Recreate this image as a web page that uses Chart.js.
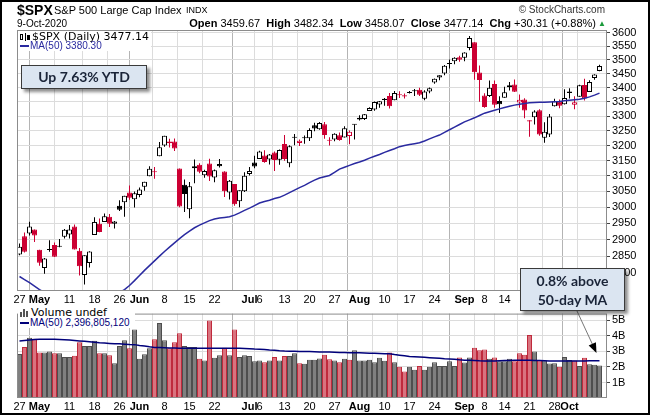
<!DOCTYPE html>
<html>
<head>
<meta charset="utf-8">
<script src="https://cdn.jsdelivr.net/npm/chart.js@4.4.1/dist/chart.umd.min.js"></script>
<style>
  body { margin:0; background:#fff; }
  #page { position:relative; width:650px; height:415px; overflow:hidden; font-family:"Liberation Sans", Arial, sans-serif; }
  #frame { position:absolute; left:0; top:0; width:650px; height:415px; box-sizing:border-box; border:2px solid #000; pointer-events:none; }
  canvas { position:absolute; left:0; }
  #priceCanvas { top:0; }
  #volCanvas { top:305px; }
  .t { position:absolute; white-space:nowrap; color:#000; }
  .legend { position:absolute; background:#fff; }
  .note { position:absolute; background:#dbe5f1; border:1px solid #3a3a3a; box-shadow:3px 3px 3px rgba(0,0,0,0.45);
          font-family:Lato, "Open Sans", sans-serif; font-weight:bold; font-size:14px; color:#1a2438; text-align:center; box-sizing:border-box; }
</style>
</head>
<body>
<div id="page">
  <canvas id="priceCanvas" width="650" height="305"></canvas>
  <canvas id="volCanvas" width="650" height="110"></canvas>

  <div class="t" style="left:17px; top:3px; font-size:14px; line-height:14px; font-weight:bold;">$SPX</div>
  <div class="t" style="left:54px; top:5px; font-size:11px; line-height:11px;">S&amp;P 500 Large Cap Index</div>
  <div class="t" style="left:186px; top:6px; font-size:9px; line-height:9px;">INDX</div>
  <div class="t" style="right:45px; top:5px; font-size:10px; line-height:10px; color:#333;">&copy; StockCharts.com</div>
  <div class="t" style="left:17px; top:19px; font-size:10px; line-height:10px;">9-Oct-2020</div>
  <div class="t" style="right:54px; top:18px; font-size:11px; line-height:11px;">
    <b>Open</b> 3459.67&nbsp;&nbsp;<b>High</b> 3482.34&nbsp;&nbsp;<b>Low</b> 3458.07&nbsp;&nbsp;<b>Close</b> 3477.14&nbsp;&nbsp;<b>Chg</b> +30.31 (+0.88%)
  </div>
  <div class="t" style="left:598px; top:20px; font-size:8px; line-height:8px; color:#1a9a3a;">&#9650;</div>

  <div class="legend" style="left:18px; top:31px; width:133px; height:20px;">
    <svg style="position:absolute; left:2px; top:2px;" width="10" height="8">
      <rect x="0.5" y="1.5" width="2" height="5" fill="none" stroke="#000"/>
      <line x1="5.5" y1="0" x2="5.5" y2="8" stroke="#000"/>
      <rect x="7.5" y="2.5" width="2" height="4" fill="#000" stroke="#000"/>
    </svg>
    <div class="t" style="left:14px; top:0px; font-family:'DejaVu Sans'; font-size:11px; line-height:11px;">$SPX (Daily) 3477.14</div>
    <div style="position:absolute; left:2px; top:14px; width:9px; height:2px; background:#2a2aa0;"></div>
    <div class="t" style="left:12px; top:10px; font-size:10px; line-height:10px; color:#2a2aa0;">MA(50) 3380.30</div>
  </div>

  <div class="legend" style="left:18px; top:306px; width:117px; height:22px;">
    <svg style="position:absolute; left:2px; top:3px;" width="10" height="8">
      <rect x="0" y="3" width="2" height="5" fill="#555"/>
      <rect x="3" y="0" width="2" height="8" fill="#555"/>
      <rect x="6" y="2" width="2" height="6" fill="#555"/>
    </svg>
    <div class="t" style="left:13px; top:1px; font-family:'DejaVu Sans'; font-size:11px; line-height:11px;">Volume undef</div>
    <div style="position:absolute; left:2px; top:16px; width:9px; height:2px; background:#00007a;"></div>
    <div class="t" style="left:12px; top:12px; font-size:10px; line-height:10px; color:#00007a;">MA(50) 2,396,805,120</div>
  </div>

  <div class="note" style="left:21px; top:65px; width:126px; height:24px; line-height:22px;">Up 7.63% YTD</div>
  <div class="note" style="left:520px; top:268px; width:105px; height:43px; line-height:19px; padding-top:2px;">0.8% above<br>50-day MA</div>

  <div id="frame"></div>
</div>

<script>
const dates = [
  '4/27','4/28','4/29','4/30',
  '5/1','5/4','5/5','5/6','5/7','5/8','5/11','5/12','5/13','5/14','5/15',
  '5/18','5/19','5/20','5/21','5/22','5/26','5/27','5/28','5/29',
  '6/1','6/2','6/3','6/4','6/5','6/8','6/9','6/10','6/11','6/12',
  '6/15','6/16','6/17','6/18','6/19','6/22','6/23','6/24','6/25','6/26','6/29','6/30',
  '7/1','7/2','7/6','7/7','7/8','7/9','7/10','7/13','7/14','7/15','7/16','7/17',
  '7/20','7/21','7/22','7/23','7/24','7/27','7/28','7/29','7/30','7/31',
  '8/3','8/4','8/5','8/6','8/7','8/10','8/11','8/12','8/13','8/14',
  '8/17','8/18','8/19','8/20','8/21','8/24','8/25','8/26','8/27','8/28','8/31',
  '9/1','9/2','9/3','9/4','9/8','9/9','9/10','9/11',
  '9/14','9/15','9/16','9/17','9/18','9/21','9/22','9/23','9/24','9/25',
  '9/28','9/29','9/30','10/1','10/2','10/5','10/6','10/7','10/8','10/9'
];

const prevClose = 2836.74;

const open = [
  2854.65,2909.96,2918.46,2930.91,
  2869.09,2815.01,2868.88,2883.14,2878.26,2908.83,2915.46,2939.50,2865.86,2794.54,2829.95,
  2913.86,2948.59,2953.63,2969.95,2948.05,3004.08,3015.65,3046.61,3025.17,
  3038.78,3064.78,3098.90,3111.56,3163.84,3199.92,3213.32,3213.42,3123.53,3071.04,
  2993.76,3131.00,3136.13,3101.64,3140.29,3094.42,3138.70,3114.40,3046.60,3073.20,3018.59,3050.20,
  3105.92,3143.64,3155.29,3166.44,3153.07,3176.17,3152.47,3205.08,3141.11,3225.98,3208.36,3224.21,
  3224.29,3268.52,3254.86,3271.64,3218.58,3219.84,3234.27,3227.22,3231.76,3270.45,
  3288.26,3289.92,3317.37,3323.17,3340.05,3356.04,3370.34,3355.46,3372.95,3368.66,
  3380.86,3387.04,3392.51,3360.48,3386.01,3418.09,3435.95,3449.97,3485.14,3494.69,3509.73,
  3507.44,3543.76,3564.74,3453.60,3371.88,3369.82,3412.56,3352.70,
  3363.56,3407.73,3411.23,3346.86,3357.38,3285.57,3295.75,3320.11,3226.14,3236.66,
  3333.90,3350.92,3341.21,3385.87,3338.94,3367.27,3408.74,3384.56,3434.28,3459.67
];
const high = [
  2887.72,2921.15,2954.86,2930.91,
  2869.09,2844.24,2898.23,2891.11,2901.92,2932.16,2944.25,2945.82,2874.14,2852.80,2865.01,
  2968.09,2964.21,2980.29,2978.50,2956.76,3021.72,3036.25,3068.67,3049.17,
  3062.18,3081.07,3130.94,3128.91,3211.72,3233.13,3222.71,3223.27,3123.53,3088.42,
  3079.76,3153.45,3141.16,3120.00,3155.53,3120.92,3154.90,3115.01,3086.25,3073.73,3053.89,3111.51,
  3128.44,3165.81,3182.59,3184.15,3171.80,3179.78,3186.82,3235.32,3200.95,3238.28,3220.39,3233.52,
  3258.61,3277.29,3279.32,3279.99,3227.26,3241.43,3243.72,3264.74,3250.92,3272.17,
  3302.73,3306.84,3330.77,3351.03,3352.54,3363.29,3381.01,3387.89,3387.24,3378.51,
  3387.59,3395.06,3399.54,3390.80,3399.96,3432.09,3444.21,3481.07,3501.38,3509.23,3514.77,
  3528.03,3588.11,3564.85,3479.15,3379.97,3424.77,3425.55,3368.95,
  3402.93,3419.48,3428.92,3375.17,3362.27,3285.57,3320.31,3323.35,3278.70,3306.88,
  3360.74,3357.92,3393.56,3397.18,3369.10,3409.57,3431.56,3426.26,3447.28,3482.34
];
const low = [
  2852.89,2860.71,2912.16,2892.47,
  2821.61,2797.85,2863.55,2847.65,2876.48,2902.88,2903.44,2869.59,2793.15,2766.64,2816.78,
  2913.86,2922.35,2953.63,2938.57,2933.59,2988.17,2969.75,3023.40,2998.61,
  3031.54,3051.64,3098.90,3090.41,3163.84,3196.00,3193.11,3181.49,2999.49,2984.47,
  2965.66,3076.06,3108.03,3093.51,3083.11,3079.39,3127.12,3032.13,3024.01,3004.63,2999.74,3047.83,
  3101.17,3124.52,3155.29,3142.93,3136.53,3115.70,3136.22,3149.43,3127.66,3200.76,3198.59,3205.65,
  3215.16,3247.77,3253.10,3222.66,3200.05,3214.25,3216.17,3227.22,3204.13,3220.26,
  3284.53,3286.37,3317.37,3318.14,3328.72,3335.44,3326.44,3355.46,3363.35,3361.64,
  3379.22,3370.15,3369.66,3354.69,3379.31,3413.13,3425.84,3444.15,3468.35,3484.32,3493.25,
  3494.60,3535.23,3427.41,3349.63,3329.27,3366.84,3329.25,3310.47,
  3363.56,3389.25,3384.45,3328.82,3292.40,3229.10,3270.95,3232.57,3209.45,3228.44,
  3332.91,3327.54,3340.47,3361.39,3323.69,3367.27,3354.54,3384.56,3428.15,3458.07
];
const close = [
  2878.48,2863.39,2939.51,2912.43,
  2830.71,2842.74,2868.44,2848.42,2881.19,2929.80,2930.32,2870.12,2820.00,2852.50,2863.70,
  2953.91,2922.94,2971.61,2948.51,2955.45,2991.77,3036.13,3029.73,3044.31,
  3055.73,3080.82,3122.87,3112.35,3193.93,3232.39,3207.18,3190.14,3002.10,3041.31,
  3066.59,3124.74,3113.49,3115.34,3097.74,3117.86,3131.29,3050.33,3083.76,3009.05,3053.24,3100.29,
  3115.86,3130.01,3179.72,3145.32,3169.94,3152.05,3185.04,3155.22,3197.52,3226.56,3215.57,3224.73,
  3251.84,3257.30,3276.02,3235.66,3215.63,3239.41,3218.44,3258.44,3246.22,3271.12,
  3294.61,3306.51,3327.77,3349.16,3351.28,3360.47,3333.69,3380.35,3373.43,3372.85,
  3381.99,3389.78,3374.85,3385.51,3397.16,3431.28,3443.62,3478.73,3484.55,3508.01,3500.31,
  3526.65,3580.84,3455.06,3426.96,3331.84,3398.96,3339.19,3340.97,
  3383.54,3401.20,3385.49,3357.01,3319.47,3281.06,3315.57,3236.92,3246.59,3298.46,
  3351.60,3335.47,3363.00,3380.80,3348.42,3408.60,3360.97,3419.44,3446.83,3477.14
];

// 50-day moving average of the close
const ma50 = [
  2790,2781,2772,2762,2752,2744,2737,2731,2726,2722,2719,2717,2716,2716,2717,2719,2722,2726,2731,2737,
  2744,2752,2764,2778,2793,2808,2822,2836,2850,2864,2877,2890,2903,2915,2926,2936,2944,2951,2958,2963,
  2966,2968,2970,2975,2982,2990,2997,3005,3013,3018,3022,3027,3031,3038,3046,3054,3062,3069,3078,3086,
  3093,3097,3101,3111,3122,3128,3134,3140,3145,3151,3158,3164,3170,3177,3183,3189,3196,3200,3203,3206,
  3209,3215,3222,3229,3235,3244,3253,3262,3271,3280,3287,3294,3302,3310,3315,3320,3325,3330,3334,3338,
  3341,3344,3346,3347,3348,3348,3349,3350,3351,3353,3355,3357,3359,3362,3367,3373,3380.30
];

// volume in billions of shares
const volume = [
  2.84,3.29,3.88,3.82,2.94,2.94,3.00,2.88,2.88,2.65,2.65,2.73,3.59,3.35,3.35,3.69,2.88,2.88,2.76,2.24,
  3.35,3.73,3.20,4.41,2.53,2.82,3.20,3.78,4.84,3.73,3.20,3.59,4.18,3.35,3.29,3.29,2.53,2.41,5.00,2.59,
  2.76,3.24,2.76,4.41,2.65,2.76,2.71,2.37,2.41,2.31,2.41,2.65,2.41,2.71,2.71,2.88,2.24,2.20,2.47,2.47,
  2.55,2.78,2.49,2.41,2.31,2.53,2.47,3.08,2.41,2.41,2.47,2.31,2.59,2.40,2.94,2.31,2.02,1.71,2.02,1.82,
  2.06,1.82,2.02,2.31,2.06,2.06,2.37,2.06,2.61,2.29,2.61,3.24,3.08,3.12,2.53,2.61,2.37,2.37,2.53,2.37,
  2.88,2.78,4.06,3.00,2.41,2.41,2.22,2.24,2.02,2.65,2.45,2.41,2.06,2.59,2.18,2.14,2.10
];
const volMa50 = [
  3.68,3.71,3.74,3.77,3.79,3.79,3.79,3.78,3.77,3.76,3.74,3.71,3.68,3.65,3.62,3.59,3.56,3.54,3.52,3.50,
  3.49,3.47,3.45,3.44,3.39,3.35,3.30,3.26,3.25,3.24,3.23,3.22,3.21,3.21,3.21,3.21,3.21,3.21,3.21,3.21,
  3.21,3.21,3.21,3.21,3.20,3.19,3.18,3.16,3.15,3.13,3.10,3.08,3.05,3.03,3.02,3.01,3.00,3.00,2.99,2.98,
  2.97,2.97,2.96,2.95,2.94,2.93,2.92,2.92,2.91,2.90,2.89,2.88,2.87,2.86,2.85,2.80,2.76,2.72,2.68,2.66,
  2.64,2.62,2.60,2.58,2.56,2.53,2.51,2.49,2.46,2.44,2.43,2.42,2.40,2.39,2.38,2.39,2.40,2.41,2.42,2.43,
  2.44,2.44,2.43,2.42,2.41,2.40,2.39,2.38,2.38,2.38,2.38,2.39,2.39,2.39,2.40,2.40,2.397
];

// x-axis labels: bar index and text
const tickIdx  = [0,4,10,15,20,24,29,34,39,46,48,53,58,63,68,73,78,83,89,93,97,102,107,110];
const tickText = ['27','May','11','18','26','Jun','8','15','22','Jul','6','13','20','27','Aug','10','17','24','Sep','8','14','21','28','Oct'];
const monthText = ['May','Jun','Jul','Aug','Sep','Oct'];
const priceTicks = [2800,2850,2900,2950,3000,3050,3100,3150,3200,3250,3300,3350,3400,3450,3500,3550,3600];
const volTicks = [1,2,3,4,5];

const RED = '#cc0033';
const FONT = '"Liberation Sans", Arial, sans-serif';

const idx = close.map((c, i) => i);
const prevOf = i => i === 0 ? prevClose : close[i - 1];
const downDay = idx.map(i => close[i] < prevOf(i));
const candleCol = idx.map(i => downDay[i] ? RED : '#000');
const bodyFill = idx.map(i => close[i] > open[i] ? '#fff' : candleCol[i]);

const isMonth = v => monthText.includes(tickText[tickIdx.indexOf(v)]);

function xScale() {
  return {
    type: 'linear', min: -0.5, max: 117.5, offset: false,
    afterBuildTicks: s => { s.ticks = tickIdx.map(v => ({ value: v })); },
    afterFit: null,
    ticks: {
      autoSkip: false, maxRotation: 0, minRotation: 0, padding: 2, color: '#000',
      font: c => ({ family: FONT, size: 11, weight: c.tick && isMonth(c.tick.value) ? 'bold' : 'normal' }),
      callback: v => tickText[tickIdx.indexOf(v)]
    },
    grid: {
      drawTicks: false, lineWidth: 1,
      color: c => c.tick && isMonth(c.tick.value) ? '#b4b4b4' : '#dcdcdc'
    },
    border: { display: false }
  };
}

const panelFrame = {
  id: 'panelFrame',
  afterDraw(chart) {
    const a = chart.chartArea, ctx = chart.ctx;
    ctx.save();
    ctx.strokeStyle = '#8c8c8c';
    ctx.lineWidth = 1;
    ctx.strokeRect(a.left + 0.5, a.top + 0.5, a.right - a.left - 1, a.bottom - a.top - 1);
    ctx.restore();
  }
};

// price panel
const px = xScale();
px.afterFit = s => { s.height = 14; };
new Chart(document.getElementById('priceCanvas'), {
  type: 'bar',
  data: {
    datasets: [
      { type: 'line', data: idx.map(i => ({ x: i, y: ma50[i] })), borderColor: '#2a2aa0', borderWidth: 1.5,
        pointRadius: 0, tension: 0, order: 0 },
      { data: idx.map(i => ({ x: i, y: [Math.min(open[i], close[i]), Math.max(open[i], close[i])] })),
        backgroundColor: bodyFill, borderColor: candleCol, borderWidth: 1, borderSkipped: false,
        barThickness: 5, grouped: false, minBarLength: 1, inflateAmount: 0, order: 1 },
      { data: idx.map(i => ({ x: i, y: [low[i], high[i]] })),
        backgroundColor: candleCol, borderWidth: 0, barThickness: 1, grouped: false, inflateAmount: 0, order: 2 }
    ]
  },
  options: {
    responsive: false, animation: false, devicePixelRatio: 1,
    layout: { padding: { left: 17, top: 30, right: 0, bottom: 0 } },
    plugins: { legend: { display: false }, tooltip: { enabled: false } },
    scales: {
      x: px,
      y: {
        type: 'logarithmic', position: 'right', min: 2748, max: 3611,
        afterBuildTicks: s => { s.ticks = priceTicks.map(v => ({ value: v })); },
        afterFit: s => { s.width = 43; },
        ticks: { color: '#000', padding: 2, font: { family: FONT, size: 11 }, callback: v => String(v) },
        grid: { color: '#dcdcdc', tickLength: 3, tickColor: '#444' },
        border: { display: false }
      }
    }
  },
  plugins: [panelFrame]
});

// arrow from the callout box down to the volume panel
const calloutArrow = {
  id: 'calloutArrow',
  afterDraw(chart) {
    const ctx = chart.ctx;
    const tx = chart.scales.x.getPixelForValue(115.4);
    const ty = chart.scales.y.getPixelForValue(2.9);
    const sx = 577, sy = 6;
    const ang = Math.atan2(ty - sy, tx - sx);
    ctx.save();
    ctx.strokeStyle = '#777';
    ctx.lineWidth = 1;
    ctx.beginPath();
    ctx.moveTo(sx, sy);
    ctx.lineTo(tx - 8 * Math.cos(ang), ty - 8 * Math.sin(ang));
    ctx.stroke();
    ctx.fillStyle = '#000';
    ctx.beginPath();
    ctx.moveTo(tx, ty);
    ctx.lineTo(tx - 10 * Math.cos(ang) + 4 * Math.sin(ang), ty - 10 * Math.sin(ang) - 4 * Math.cos(ang));
    ctx.lineTo(tx - 10 * Math.cos(ang) - 4 * Math.sin(ang), ty - 10 * Math.sin(ang) + 4 * Math.cos(ang));
    ctx.closePath();
    ctx.fill();
    ctx.restore();
  }
};

// volume panel
const vx = xScale();
vx.afterFit = s => { s.height = 17; };
new Chart(document.getElementById('volCanvas'), {
  type: 'bar',
  data: {
    datasets: [
      { type: 'line', data: idx.map(i => ({ x: i, y: volMa50[i] })), borderColor: '#00007a', borderWidth: 1.5,
        pointRadius: 0, tension: 0, order: 0 },
      { data: idx.map(i => ({ x: i, y: volume[i] })),
        backgroundColor: idx.map(i => downDay[i] ? '#d9737f' : '#808080'),
        borderColor: idx.map(i => downDay[i] ? '#bf2a3c' : '#4e4e4e'),
        borderWidth: 1, barThickness: 5, inflateAmount: 0, order: 1 }
    ]
  },
  options: {
    responsive: false, animation: false, devicePixelRatio: 1,
    layout: { padding: { left: 17, top: 0, right: 0, bottom: 0 } },
    plugins: { legend: { display: false }, tooltip: { enabled: false } },
    scales: {
      x: vx,
      y: {
        type: 'linear', position: 'right', min: 0, max: 5.44,
        afterBuildTicks: s => { s.ticks = volTicks.map(v => ({ value: v })); },
        afterFit: s => { s.width = 43; },
        ticks: { color: '#000', padding: 2, font: { family: FONT, size: 11 }, callback: v => v + 'B' },
        grid: { color: '#dcdcdc', tickLength: 3, tickColor: '#444' },
        border: { display: false }
      }
    }
  },
  plugins: [panelFrame, calloutArrow]
});
</script>
</body>
</html>
